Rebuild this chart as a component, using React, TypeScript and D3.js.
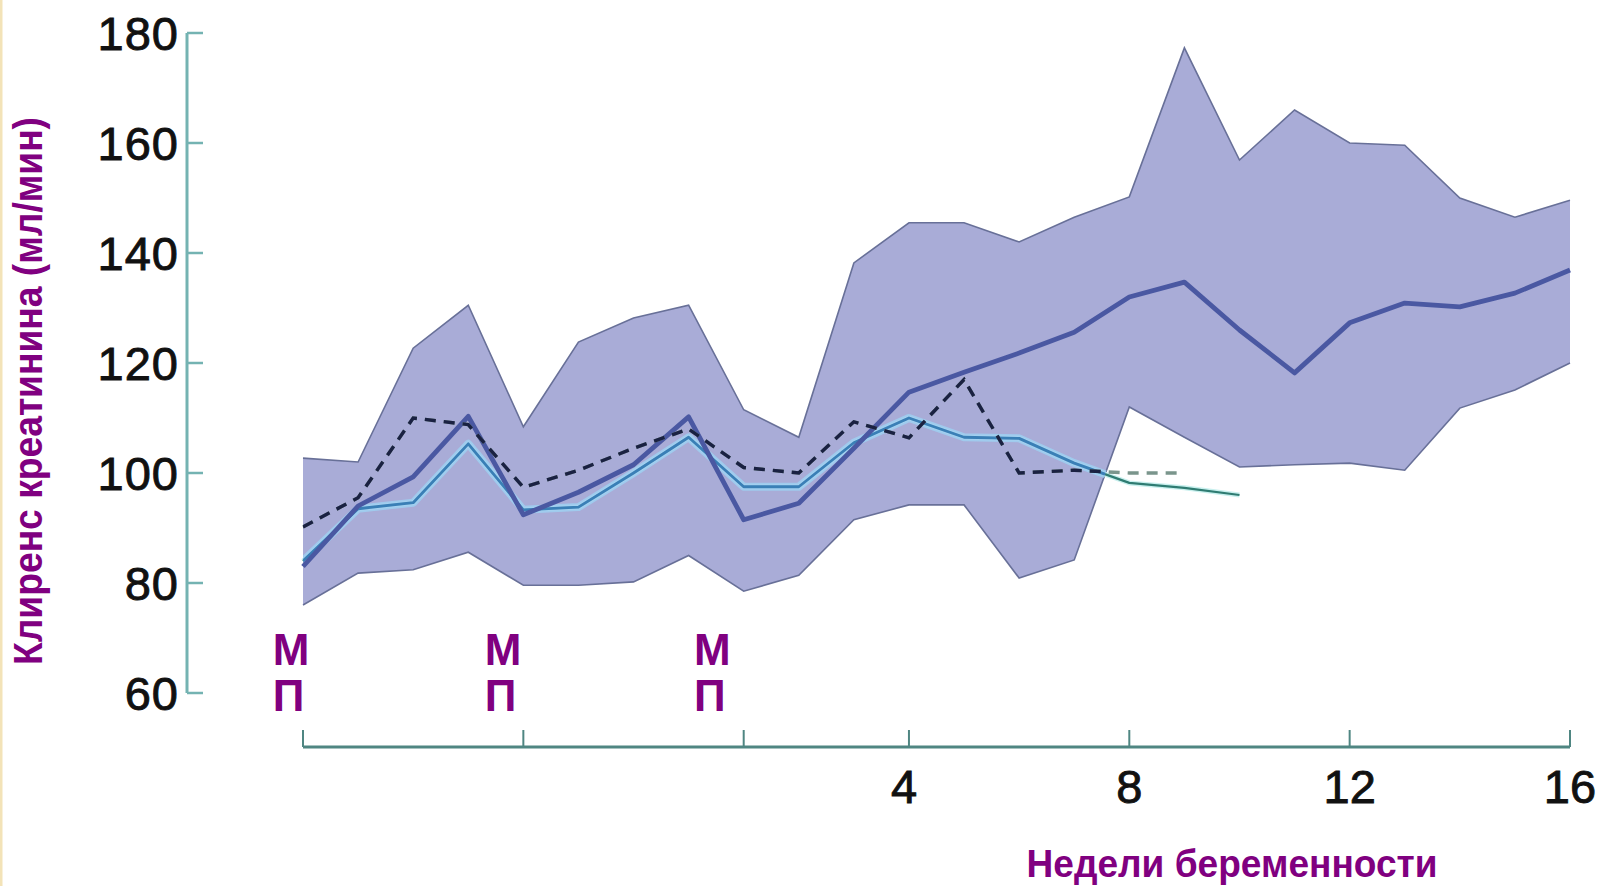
import React from "react";
import * as d3 from "d3";

// ---- data ----
const weeks = [-7, -6, -5, -4, -3, -2, -1, 0, 1, 2, 3, 4, 5, 6, 7, 8, 9, 10, 11, 12, 13, 14, 15, 16];
const rangeUpper = [102.7, 102, 122.7, 130.5, 108.4, 123.8, 128.2, 130.5, 111.5, 106.5, 138.2, 145.5, 145.5, 142, 146.5, 150.2, 177.3, 156.9, 166, 160, 159.6, 150, 146.5, 149.6];
const rangeLower = [76, 81.8, 82.4, 85.6, 79.6, 79.6, 80.2, 85, 78.5, 81.4, 91.5, 94.2, 94.2, 80.9, 84.2, 112, 106.5, 101.1, 101.5, 101.8, 100.5, 111.8, 115.1, 120];
const meanValues = [83, 94, 99.3, 110.3, 92.4, 96.5, 101.5, 110.2, 91.5, 94.5, 104.5, 114.7, 118.3, 121.8, 125.6, 132, 134.7, 126, 118.2, 127.3, 130.9, 130.2, 132.7, 136.9];
const lightWeeks = [-7, -6, -5, -4, -3, -2, -1, 0, 1, 2, 3, 4, 5, 6, 7, 8, 9, 10];
const lightValues = [84, 93.5, 94.6, 105.3, 93.3, 93.8, 100, 106.5, 97.5, 97.5, 105.5, 110, 106.5, 106.3, 101.8, 98.2, 97.3, 96];
const dashedWeeks = [-7, -6, -5, -4, -3, -2, -1, 0, 1, 2, 3, 4, 5, 6, 7, 8, 9];
const dashedValues = [90.2, 95.5, 110, 108.8, 97.4, 100.5, 104.5, 108, 101, 100, 109.3, 106.4, 117, 100, 100.5, 100, 100];

const yTicks = [60, 80, 100, 120, 140, 160, 180];
const cycleTicks = [-7, -3, 1];
const weekTicks = [4, 8, 12, 16];
const mpWeeks = [-7.55, -3.7, 0.1];
const mpLabels = ["М", "П"];
const yTitle = "Клиренс креатинина (мл/мин)";
const xTitle = "Недели беременности";

const W = 1605;
const H = 886;

export default function App() {
  const x = d3.scaleLinear().domain([-7, 16]).range([303, 1570]);
  const y = d3.scaleLinear().domain([60, 180]).range([693, 33]);

  const band = weeks.map((w, i) => ({ w, lo: rangeLower[i], hi: rangeUpper[i] }));
  const mean = weeks.map((w, i) => ({ w, v: meanValues[i] }));
  const light = lightWeeks.map((w, i) => ({ w, v: lightValues[i] }));
  const dashed = dashedWeeks.map((w, i) => ({ w, v: dashedValues[i] }));

  const area = d3.area<any>().x((d) => x(d.w)).y0((d) => y(d.lo)).y1((d) => y(d.hi));
  const upperLine = d3.line<any>().x((d) => x(d.w)).y((d) => y(d.hi));
  const lowerLine = d3.line<any>().x((d) => x(d.w)).y((d) => y(d.lo));
  const line = d3.line<any>().x((d) => x(d.w)).y((d) => y(d.v));

  const bandPath = area(band) || "";
  const purple = "#800080";
  const yAxisColor = "#74b3b2";
  const xAxisColor = "#4f8682";
  const axisX = 187;
  const axisY = 747;
  const numFont = "Liberation Sans, Arial, Helvetica, sans-serif";

  return (
    <svg
      width={W}
      height={H}
      viewBox={`0 0 ${W} ${H}`}
      style={{ position: "absolute", left: 0, top: 0, background: "#ffffff" }}
    >
      <defs>
        <clipPath id="bandClip">
          <path d={bandPath} />
        </clipPath>
      </defs>
      <rect x={0} y={0} width={W} height={H} fill="#ffffff" />
      <rect x={0} y={0} width={2.5} height={H} fill="#f3e3b8" />

      {/* range band */}
      <path d={bandPath} fill="#a9acd7" stroke="none" />
      <path d={upperLine(band) || ""} fill="none" stroke="#687098" strokeWidth={1.6} />
      <path d={lowerLine(band) || ""} fill="none" stroke="#687098" strokeWidth={1.6} />

      {/* light series: teal outside the band, blue with halo inside */}
      <path d={line(light) || ""} fill="none" stroke="#c9f0ee" strokeWidth={5} strokeLinejoin="round" />
      <path d={line(light) || ""} fill="none" stroke="#2f7c72" strokeWidth={2.2} strokeLinejoin="round" />
      <g clipPath="url(#bandClip)">
        <path d={line(light) || ""} fill="none" stroke="#9fcdf0" strokeWidth={8} strokeLinejoin="round" opacity={0.9} />
        <path d={line(light) || ""} fill="none" stroke="#3a7fb6" strokeWidth={2.8} strokeLinejoin="round" />
      </g>

      {/* mean line */}
      <path d={line(mean) || ""} fill="none" stroke="#4a58a2" strokeWidth={4.8} strokeLinejoin="round" />

      {/* dashed series: gray outside band, dark inside */}
      <path d={line(dashed) || ""} fill="none" stroke="#7a958c" strokeWidth={3.4} strokeDasharray="11 8" />
      <g clipPath="url(#bandClip)">
        <path d={line(dashed) || ""} fill="none" stroke="#1a2142" strokeWidth={3.4} strokeDasharray="11 8" />
      </g>

      {/* y axis */}
      <line x1={axisX} x2={axisX} y1={y(180)} y2={y(60)} stroke={yAxisColor} strokeWidth={3} />
      {yTicks.map((t) => (
        <g key={t}>
          <line x1={axisX} x2={axisX + 16} y1={y(t)} y2={y(t)} stroke={yAxisColor} strokeWidth={2.5} />
          <text
            x={179}
            y={y(t) + 16.5}
            textAnchor="end"
            fontFamily={numFont}
            fontSize={47}
            letterSpacing={1}
            fill="#111111"
            stroke="#111111"
            strokeWidth={0.9}
          >
            {t}
          </text>
        </g>
      ))}

      {/* x axis */}
      <line x1={x(-7)} x2={x(16)} y1={axisY} y2={axisY} stroke={xAxisColor} strokeWidth={3} />
      {[...cycleTicks, ...weekTicks].map((t) => (
        <line key={t} x1={x(t)} x2={x(t)} y1={axisY} y2={axisY - 17} stroke={xAxisColor} strokeWidth={2} />
      ))}
      {weekTicks.map((t) => (
        <text
          key={t}
          x={x(t) - (t === 4 ? 5 : 0)}
          y={803}
          textAnchor="middle"
          fontFamily={numFont}
          fontSize={47}
          fill="#111111"
          stroke="#111111"
          strokeWidth={0.9}
        >
          {t}
        </text>
      ))}

      {/* М / П markers */}
      {mpWeeks.map((w, i) => (
        <g key={i}>
          {mpLabels.map((lab, j) => (
            <text
              key={lab}
              x={x(w)}
              y={665 + j * 46}
              textAnchor="start"
              fontFamily="Liberation Sans, Arial, sans-serif"
              fontWeight="bold"
              fontSize={44}
              fill={purple}
            >
              {lab}
            </text>
          ))}
        </g>
      ))}

      {/* titles */}
      <text
        transform="translate(42, 391) rotate(-90)"
        textAnchor="middle"
        fontFamily="Liberation Sans, Arial, sans-serif"
        fontWeight="bold"
        fontSize={40}
        textLength={548}
        lengthAdjust="spacingAndGlyphs"
        fill={purple}
      >
        {yTitle}
      </text>
      <text
        x={1232}
        y={877}
        textAnchor="middle"
        fontFamily="Liberation Sans, Arial, sans-serif"
        fontWeight="bold"
        fontSize={38}
        textLength={411}
        lengthAdjust="spacingAndGlyphs"
        fill={purple}
      >
        {xTitle}
      </text>
    </svg>
  );
}
